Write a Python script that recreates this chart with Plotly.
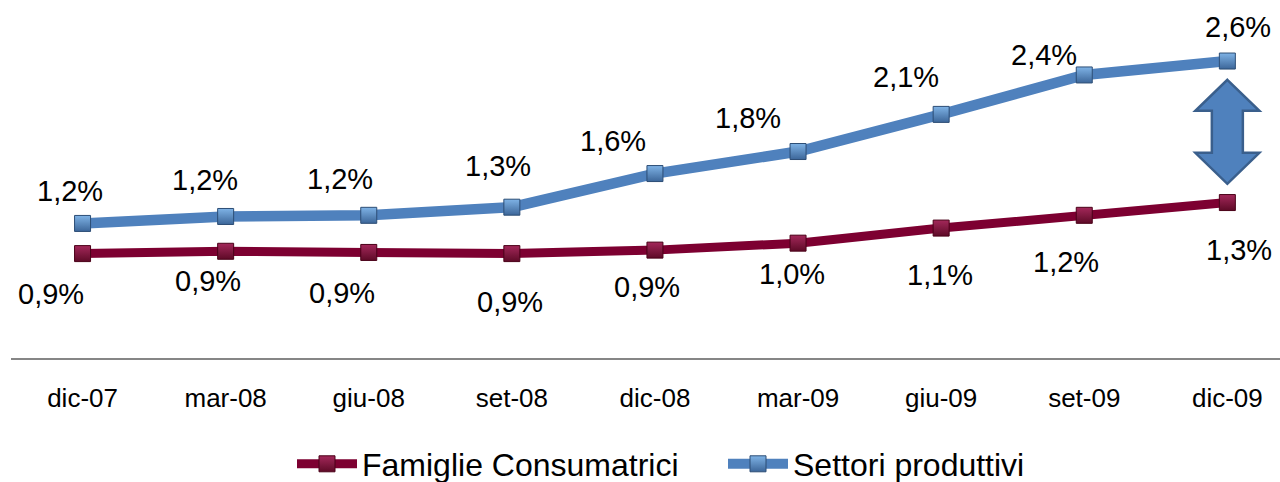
import plotly.graph_objects as go

# ---------------- data ----------------
categories = ["dic-07", "mar-08", "giu-08", "set-08", "dic-08", "mar-09", "giu-09", "set-09", "dic-09"]
famiglie = [0.90, 0.92, 0.91, 0.90, 0.93, 0.99, 1.12, 1.23, 1.34]   # % values
settori = [1.16, 1.22, 1.23, 1.30, 1.59, 1.78, 2.10, 2.44, 2.56]    # % values
series_names = ["Famiglie Consumatrici", "Settori produttivi"]

# ---------------- styling ----------------
FONT = "Liberation Sans, Arial, sans-serif"
RED_LINE = "#7D0031"
BLUE_LINE = "#4F81BD"
# pixel offsets of the data labels (dx, dy up)
settori_label_offsets = [(-13, 32), (-21, 36), (-29, 36), (-14, 41), (-42, 33), (-50, 34), (-35, 37), (-40, 20), (11, 34)]
famiglie_label_offsets = [(-32, -40), (-18, -30), (-27, -41), (-2, -48), (-8, -37), (-6, -31), (-1, -47), (-18, -47), (12, -47)]

W, H = 1280, 482
M_L, M_R, M_T, M_B = 11, 0, 20, 124
PX_PER_UNIT = 116.0
plot_h = H - M_T - M_B
plot_w = W - M_L - M_R
cat_step = 143.1

xs = list(range(len(categories)))

fig = go.Figure()
fig.add_trace(go.Scatter(
    x=xs, y=famiglie, name=series_names[0], mode="lines+markers",
    line=dict(color=RED_LINE, width=9),
    marker=dict(symbol="square", size=16, color="#A3285A",
                line=dict(color="#4A0018", width=1),
                gradient=dict(type="vertical", color="#5E0A27")),
))
fig.add_trace(go.Scatter(
    x=xs, y=settori, name=series_names[1], mode="lines+markers",
    line=dict(color=BLUE_LINE, width=10.5),
    marker=dict(symbol="square", size=16, color="#7FB3E6",
                line=dict(color="#2C4D75", width=1),
                gradient=dict(type="vertical", color="#3C6699")),
))

def fmt(v):
    return f"{v:.1f}".replace(".", ",") + "%"

annotations = []
for i, v in enumerate(settori):
    dx, dy = settori_label_offsets[i]
    annotations.append(dict(x=i, y=v, xref="x", yref="y", text=fmt(v), showarrow=False,
                            xshift=dx, yshift=dy, font=dict(family=FONT, size=29, color="#000000")))
for i, v in enumerate(famiglie):
    dx, dy = famiglie_label_offsets[i]
    annotations.append(dict(x=i, y=v, xref="x", yref="y", text=fmt(v), showarrow=False,
                            xshift=dx, yshift=dy, font=dict(family=FONT, size=29, color="#000000")))

# double-headed block arrow between the last two points
last = len(categories) - 1
mid = (settori[last] + famiglie[last]) / 2
arrow_path = ("M 0,52 L 32,21 L 15.5,21 L 15.5,-21 L 32,-21 L 0,-52 "
              "L -32,-21 L -15.5,-21 L -15.5,21 L -32,21 Z")
shapes = [dict(type="path", xref="x", yref="y", xsizemode="pixel", ysizemode="pixel",
               xanchor=last, yanchor=mid, path=arrow_path,
               fillcolor="#4F81BD", line=dict(color="#3A5F8C", width=2.5), layer="above")]

fig.update_layout(
    width=W, height=H,
    margin=dict(l=M_L, r=M_R, t=M_T, b=M_B, pad=0, autoexpand=False),
    paper_bgcolor="white", plot_bgcolor="white",
    font=dict(family=FONT, color="#000000"),
    showlegend=True,
    legend=dict(orientation="h", x=(292 - M_L) / plot_w, xanchor="left",
                y=(M_T + plot_h - 464) / plot_h, yanchor="middle",
                font=dict(family=FONT, size=32, color="#000000"),
                bgcolor="rgba(0,0,0,0)", itemwidth=60, entrywidth=356, entrywidthmode="pixels"),
    annotations=annotations,
    shapes=shapes,
)
fig.update_xaxes(
    range=[-0.5, -0.5 + plot_w / cat_step],
    tickmode="array", tickvals=xs, ticktext=categories,
    showgrid=False, zeroline=False, showline=True, linecolor="#868686", linewidth=2,
    ticks="", tickfont=dict(family=FONT, size=26, color="#000000"), ticklabelstandoff=16,
    fixedrange=True,
)
fig.update_yaxes(
    range=[0, plot_h / PX_PER_UNIT], visible=False, showgrid=False, zeroline=False, fixedrange=True,
)

fig.write_html("out.html", config={"displayModeBar": False})
